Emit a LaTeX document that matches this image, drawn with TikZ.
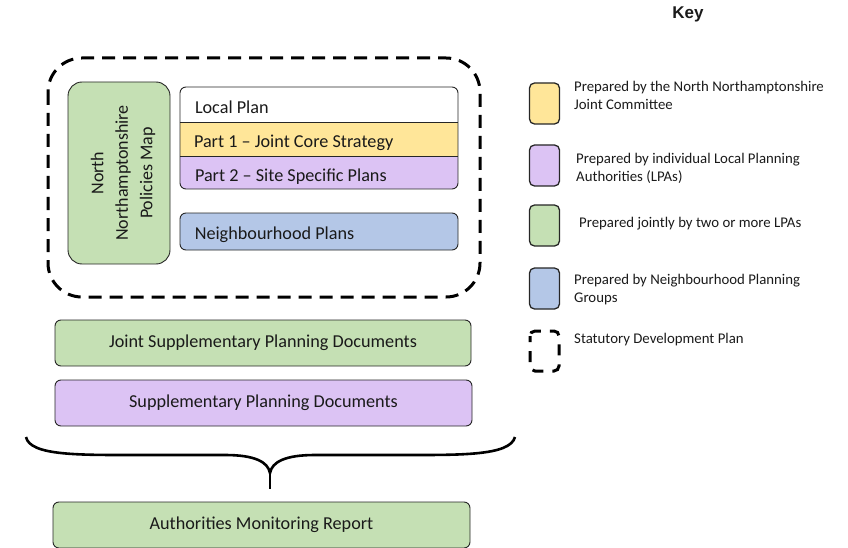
\documentclass[tikz,border=0pt]{standalone}
\usepackage{fontspec}
\setmainfont{Carlito}
\newfontfamily\keyfont{Liberation Sans}
\usetikzlibrary{positioning}
\definecolor{cyellow}{HTML}{FFE699}
\definecolor{cpurple}{HTML}{DCC3F4}
\definecolor{cgreen}{HTML}{C5E0B4}
\definecolor{cblue}{HTML}{B4C7E7}
\definecolor{ctext}{HTML}{1A1A1A}
\tikzset{
  box/.style={draw=black!85, line width=0.9pt, rounded corners=6pt, minimum height=#1, text=ctext, font=\fontsize{18.2}{20}\selectfont},
  box/.default=46pt,
  band/.style={minimum width=278pt, minimum height=#1, inner sep=0pt},
  bandtext/.style={anchor=west, text=ctext, font=\fontsize{18.2}{20}\selectfont, inner sep=0pt, yshift=-3pt},
  swatch/.style={draw=black!85, line width=1.3pt, rounded corners=5pt, minimum width=30pt, minimum height=41pt},
  keytext/.style={anchor=west, align=left, text=ctext, font=\fontsize{14.8}{18}\selectfont, inner sep=0pt},
  sdp/.style={draw=black, line width=3pt, dash pattern=on 13pt off 8pt, rounded corners=34pt},
}
\begin{document}
\begin{tikzpicture}[x=1pt,y=-1pt]
\useasboundingbox (0,0) rectangle (848,548);
% statutory development plan
\draw[sdp] (48,58) rectangle (480,297);
% policies map
\node[box, fill=cgreen, rounded corners=14pt, minimum width=102pt, minimum height=182pt] (map) at (119,173) {};
\node[rotate=90, align=center, text=ctext, font=\fontsize{18}{24.5}\selectfont] (maptext) at (123,173) {North\\Northamptonshire\\Policies Map};
% local plan
\begin{scope}
\clip[rounded corners=6pt] (180,87) rectangle (458,189);
\node[band=35pt, fill=white] (lp) at (319,104.5) {};
\node[band=34pt, fill=cyellow, below=0pt of lp] (p1) {};
\node[band=33pt, fill=cpurple, below=0pt of p1] (p2) {};
\end{scope}
\draw[black!85, line width=0.9pt, rounded corners=6pt] (180,87) rectangle (458,189);
\draw[black!85, line width=0.9pt] (lp.south west) -- (lp.south east);
\draw[black!85, line width=0.9pt] (p1.south west) -- (p1.south east);
\node[bandtext] (lpt) at ([xshift=15pt]lp.west) {Local Plan};
\node[bandtext] (p1t) at ([xshift=14pt]p1.west) {Part 1 -- Joint Core Strategy};
\node[bandtext] (p2t) at ([xshift=15pt]p2.west) {Part 2 -- Site Specific Plans};
% neighbourhood
\node[box=37pt, fill=cblue, minimum width=278pt] (np) at (319,231.5) {};
\node[bandtext] (npt) at ([xshift=15pt]np.west) {Neighbourhood Plans};
% SPDs
\node[box, fill=cgreen, minimum width=416pt] (jspd) at (263,343) {Joint Supplementary Planning Documents};
\node[box, fill=cpurple, minimum width=417pt] (spd) at (263.5,403) {Supplementary Planning Documents};
% brace
\coordinate (bl) at (26,437);
\coordinate (br) at (515,437);
\coordinate (bc) at (270,473);
\coordinate (bs) at (270,489);
\draw[line width=2.6pt] (bl) .. controls (30,456) and (80,455) .. (140,455) -- (225,455) .. controls (255,455) and (268,462) .. (bc)
  .. controls (272,462) and (285,455) .. (315,455) -- (400,455) .. controls (460,455) and (510,456) .. (br);
\draw[line width=2.6pt] (bc) -- (bs);
% AMR
\node[box, fill=cgreen, minimum width=417pt] (amr) at (261.5,525) {Authorities Monitoring Report};
% key
\node[font=\keyfont\bfseries\fontsize{17}{19}\selectfont, text=ctext] (key) at (688,14) {Key};
\node[swatch, fill=cyellow] (k1) at (544.5,103.5) {};
\node[keytext] (t1) at (574,95) {Prepared by the North Northamptonshire\\Joint Committee};
\node[swatch, fill=cpurple] (k2) at (544.5,165.5) {};
\node[keytext] (t2) at (576,168) {Prepared by individual Local Planning\\Authorities (LPAs)};
\node[swatch, fill=cgreen] (k3) at (544.5,225.5) {};
\node[keytext] (t3) at (579,224) {Prepared jointly by two or more LPAs};
\node[swatch, fill=cblue] (k4) at (544.5,288.5) {};
\node[keytext] (t4) at (574,290) {Prepared by Neighbourhood Planning\\Groups};
\draw[draw=black, line width=3pt, dash pattern=on 11pt off 9pt, dash phase=5pt, rounded corners=5pt] (530,331) rectangle (559,371);
\node[keytext] (t5) at (574,340) {Statutory Development Plan};
\end{tikzpicture}
\end{document}
